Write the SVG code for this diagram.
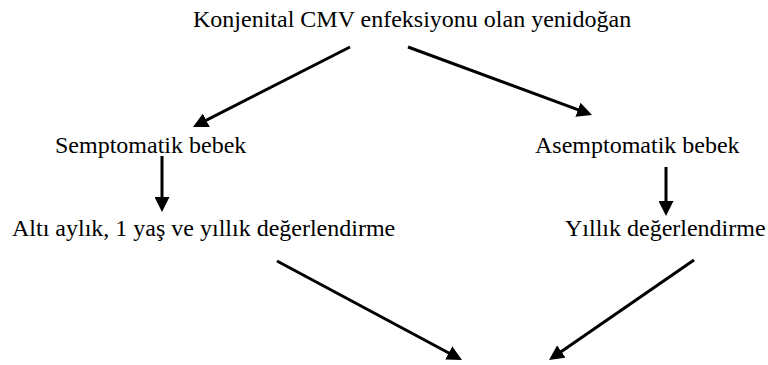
<svg xmlns="http://www.w3.org/2000/svg" width="768" height="365" viewBox="0 0 768 365">
<style>
text{font-family:"Liberation Serif","Times New Roman",serif;font-size:24px;fill:#000}
.c line{stroke:#000;stroke-width:3;fill:none;marker-end:url(#ah)}
</style>
<defs>
<marker id="ah" viewBox="0 0 15 15" markerWidth="15" markerHeight="15" markerUnits="userSpaceOnUse" refX="7" refY="7.5" orient="auto">
<path d="M0,0 L15,7.5 L0,15 z" fill="#000"/>
</marker>
</defs>
<rect width="768" height="365" fill="#fff"/>
<g id="n-root"><text x="193" y="27">Konjenital CMV enfeksiyonu olan yenidoğan</text></g>
<g id="n-sym"><text x="55" y="153">Semptomatik bebek</text></g>
<g id="n-asym"><text x="535" y="153">Asemptomatik bebek</text></g>
<g id="n-sym-eval"><text x="12" y="236">Altı aylık, 1 yaş ve yıllık değerlendirme</text></g>
<g id="n-asym-eval"><text x="565" y="236">Yıllık değerlendirme</text></g>
<g id="connectors" class="c">
<line x1="350" y1="47" x2="200.1" y2="123.4"/>
<line x1="408" y1="47" x2="584.5" y2="112.2"/>
<line x1="162" y1="156" x2="162" y2="204"/>
<line x1="666" y1="167" x2="666" y2="208"/>
<line x1="277" y1="261" x2="454.9" y2="356.2"/>
<line x1="694" y1="260" x2="555.6" y2="355.5"/>
</g>
</svg>
